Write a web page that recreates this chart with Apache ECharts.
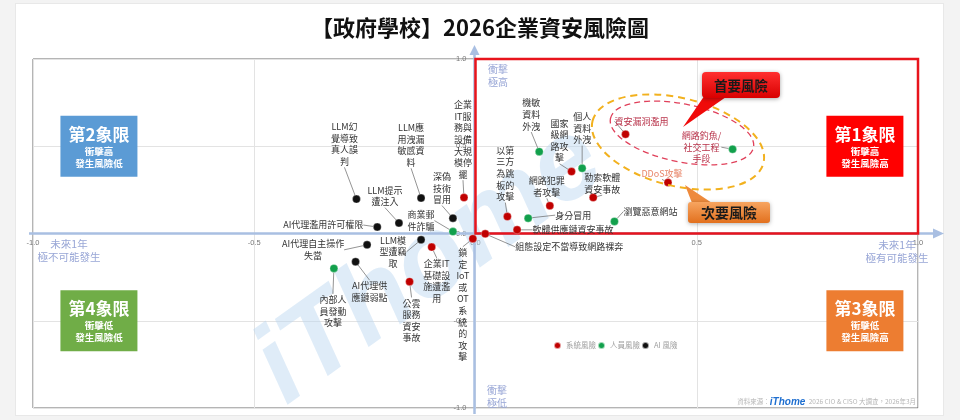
<!DOCTYPE html>
<html><head><meta charset="utf-8">
<script src="https://cdn.jsdelivr.net/npm/echarts@6/dist/echarts.min.js"></script>
<style>
html,body{margin:0;padding:0;background:#f3f3f3;width:960px;height:420px;overflow:hidden}
#card{position:absolute;left:15px;top:3px;width:929px;height:413px;background:#fff;border:1px solid #e8e8e8;box-sizing:border-box}
#chart{position:absolute;left:0;top:0;width:960px;height:420px}
</style></head><body><div id="card"></div><div id="chart"></div>
<script>
// ---- data ----
const chartTitle = '【政府學校】2026企業資安風險圖';
const axisMin = -1, axisMax = 1, axisStep = 0.5;
const seriesNames = ['系統風險', '人員風險', 'AI 風險'];

const systemRisks = ['企業\nIT服\n務與\n設備\n大規\n模停\n擺', '企業IT\n基礎設\n施遭濫\n用', '公雲\n服務\n資安\n事故', '鎖\n定\nIoT\n或\nOT\n系\n統\n的\n攻\n擊', '組態設定不當導致網路裸奔', '軟體供應鏈資安事故', '以第\n三方\n為跳\n板的\n攻擊', '網路犯罪\n者攻擊', '國家\n級網\n路攻\n擊', '勒索軟體\n資安事故', '資安漏洞濫用', 'DDoS攻擊'];
const systemLikelihood = [-0.026, -0.099, -0.149, -0.006, 0.022, 0.094, 0.072, 0.168, 0.217, 0.266, 0.339, 0.435];
const systemImpact = [0.206, -0.078, -0.276, -0.030, -0.002, 0.021, 0.097, 0.159, 0.355, 0.206, 0.569, 0.292];

const peopleRisks = ['商業郵\n件詐騙', '內部人\n員發動\n攻擊', '身分冒用', '機敏\n資料\n外洩', '個人\n資料\n外洩', '瀏覽惡意網站', '網路釣魚/\n社交工程\n手段'];
const peopleLikelihood = [-0.051, -0.320, 0.119, 0.144, 0.241, 0.314, 0.581];
const peopleImpact = [0.011, -0.200, 0.088, 0.469, 0.374, 0.069, 0.483];

const aiRisks = ['LLM幻\n覺導致\n真人誤\n判', 'LLM應\n用洩漏\n敏感資\n料', 'LLM提示\n遭注入', '深偽\n技術\n冒用', 'AI代理濫用許可權限', 'AI代理自主操作\n失當', 'LLM模\n型遭竊\n取', 'AI代理供\n應鏈弱點'];
const aiLikelihood = [-0.269, -0.123, -0.173, -0.051, -0.222, -0.245, -0.123, -0.271];
const aiImpact = [0.197, 0.203, 0.060, 0.088, 0.037, -0.065, -0.036, -0.162];

const quadrantTitles = ['第1象限', '第2象限', '第3象限', '第4象限'];
const quadrantNotes = ['衝擊高\n發生風險高', '衝擊高\n發生風險低', '衝擊低\n發生風險高', '衝擊低\n發生風險低'];

// ---- layout / style (not data) ----
const systemOffsets = [[-1,-58],[5,34],[2,39],[-10,66],[84,13],[56,0],[-2,-43],[-3,-19],[-12,-31],[9,-14],[16,-13],[-6,-9]];
const peopleOffsets = [[-32,-11],[-1,43],[45,-3],[-8,-37],[0,-40],[36,-10],[-31,-2]];
const aiOffsets = [[-12,-55],[-10,-53],[-14,-27],[-11,-30],[-54,-2],[-54,5],[-28,12],[14,30]];
const specialLabelColors = {'資安漏洞濫用':'#b8334a', 'DDoS攻擊':'#e8866a', '網路釣魚/\n社交工程\n手段':'#b8334a'};
const quadrantPos = [[0.880, 0.5], [-0.851, 0.5], [0.880, -0.5], [-0.851, -0.5]];
const quadrantColors = ['#ff0000', '#5b9bd5', '#ed7d31', '#70ad47'];
const FONT = '"Noto Sans CJK TC", "Noto Sans CJK SC", sans-serif';
const W = 960, H = 420;
const G = {left: 33, right: 42, top: 59, bottom: 12};
const gridW = W - G.left - G.right, gridH = H - G.top - G.bottom;

function riskSeries(name, labels, xs, ys, offsets, color) {
  return {
    type: 'scatter', name: name, symbolSize: 8, z: 5,
    itemStyle: {color: color, opacity: 1, borderColor: 'rgba(255,255,255,0.6)', borderWidth: 0.5},
    data: labels.map((l, i) => {
      const d = {name: l, value: [xs[i], ys[i]]};
      if (specialLabelColors[l]) d.label = {color: specialLabelColors[l]};
      return d;
    }),
    label: {show: true, position: 'inside', formatter: '{b}', color: '#333', fontSize: 9, lineHeight: 11.6,
      align: 'center', verticalAlign: 'middle', textBorderWidth: 0, fontFamily: FONT},
    labelLine: {show: true, lineStyle: {color: '#666', width: 0.7}},
    labelLayout: p => ({dx: offsets[p.dataIndex][0], dy: offsets[p.dataIndex][1]}),
    emphasis: {disabled: true}
  };
}

const chart = echarts.init(document.getElementById('chart'), null, {renderer: 'canvas'});
const axisCommon = {
  type: 'value', min: axisMin, max: axisMax, interval: axisStep,
  axisLine: {show: false, onZero: false},
  axisTick: {show: false},
  splitLine: {show: true, lineStyle: {color: '#e3e3e3', width: 1}},
  axisLabel: {color: '#777', fontSize: 7.5, showMinLabel: true, showMaxLabel: true, formatter: v => v.toFixed(1), fontFamily: 'Arial'}
};

chart.setOption({
  animation: false,
  textStyle: {fontFamily: FONT},
  title: {text: chartTitle, left: 'center', top: 12, textStyle: {fontSize: 22, fontWeight: 'bold', color: '#111', fontFamily: FONT}},
  legend: {data: seriesNames, left: 553, top: 341, padding: 0, icon: 'circle', itemWidth: 7, itemHeight: 7, itemGap: 1,
    textStyle: {fontSize: 7.5, color: '#a0a0a0', fontFamily: FONT}},
  grid: {left: G.left, right: G.right, top: G.top, bottom: G.bottom, show: true, borderColor: '#6b6b6b', borderWidth: 1, containLabel: false, outerBoundsMode: 'none'},
  xAxis: Object.assign({}, axisCommon, {position: 'bottom', offset: -gridH / 2, axisLabel: Object.assign({}, axisCommon.axisLabel, {margin: 5})}),
  yAxis: Object.assign({}, axisCommon, {position: 'left', offset: -gridW / 2, axisLabel: Object.assign({}, axisCommon.axisLabel, {margin: 9})}),
  series: [
    riskSeries(seriesNames[0], systemRisks, systemLikelihood, systemImpact, systemOffsets, '#c00000'),
    riskSeries(seriesNames[1], peopleRisks, peopleLikelihood, peopleImpact, peopleOffsets, '#12a04c'),
    riskSeries(seriesNames[2], aiRisks, aiLikelihood, aiImpact, aiOffsets, '#111111'),
    {
      type: 'scatter', name: 'quadrants', symbol: 'rect', symbolSize: [77, 61], z: 4, silent: true,
      itemStyle: {opacity: 1},
      data: quadrantTitles.map((t, i) => ({name: t, value: quadrantPos[i], itemStyle: {color: quadrantColors[i], opacity: 1}})),
      label: {show: true, position: 'inside',
        formatter: p => '{t|' + p.name + '}\n' + quadrantNotes[p.dataIndex].split('\n').map(s => '{s|' + s + '}').join('\n'),
        rich: {t: {fontSize: 17, fontWeight: 'bold', color: '#fff', lineHeight: 22, fontFamily: FONT},
               s: {fontSize: 9.5, fontWeight: 'bold', color: '#fff', lineHeight: 12, fontFamily: FONT}}},
      markArea: {silent: true, z: 3, itemStyle: {color: 'rgba(0,0,0,0)', borderColor: '#e8141c', borderWidth: 2.5, opacity: 1},
        data: [[{coord: [0, axisMax]}, {coord: [axisMax, 0]}]]},
      emphasis: {disabled: true}
    }
  ]
});

// decorations
const o = chart.convertToPixel({gridIndex: 0}, [0, 0]);
const tl = chart.convertToPixel({gridIndex: 0}, [axisMin, axisMax]);
const br = chart.convertToPixel({gridIndex: 0}, [axisMax, axisMin]);
const axisCol = '#a9bfe2';
const nameCol = '#98a6d6';
chart.setOption({
  graphic: [
    {type: 'text', x: 430, y: 265, rotation: 0.62, silent: true, z: 1,
      style: {text: 'iThome', fontSize: 112, fontWeight: 'bold', fontStyle: 'italic', fontFamily: 'Arial',
        fill: 'rgba(185,212,240,0.45)', align: 'center', verticalAlign: 'middle'}},
    {type: 'line', silent: true, z: 2, shape: {x1: tl[0] - 4, y1: o[1], x2: br[0] + 18, y2: o[1]}, style: {stroke: axisCol, lineWidth: 2.5}},
    {type: 'polygon', silent: true, z: 2, shape: {points: [[br[0] + 26, o[1]], [br[0] + 15, o[1] - 5], [br[0] + 15, o[1] + 5]]}, style: {fill: axisCol}},
    {type: 'line', silent: true, z: 2, shape: {x1: o[0] - 1, y1: br[1] + 6, x2: o[0] - 1, y2: tl[1] - 6}, style: {stroke: axisCol, lineWidth: 2.5}},
    {type: 'polygon', silent: true, z: 2, shape: {points: [[o[0] - 1, tl[1] - 14], [o[0] - 6, tl[1] - 4], [o[0] + 4, tl[1] - 4]]}, style: {fill: axisCol}},
    {type: 'text', x: 69, y: 251, silent: true, z: 6, style: {text: '未來1年\n極不可能發生', fontSize: 10.5, lineHeight: 13, fill: nameCol, align: 'center', verticalAlign: 'middle', fontFamily: FONT}},
    {type: 'text', x: 897, y: 252, silent: true, z: 6, style: {text: '未來1年\n極有可能發生', fontSize: 10.5, lineHeight: 13, fill: nameCol, align: 'center', verticalAlign: 'middle', fontFamily: FONT}},
    {type: 'text', x: 488, y: 75.5, silent: true, z: 6, style: {text: '衝擊\n極高', fontSize: 10, lineHeight: 13, fill: nameCol, align: 'left', verticalAlign: 'middle', fontFamily: FONT}},
    {type: 'text', x: 487, y: 397, silent: true, z: 6, style: {text: '衝擊\n極低', fontSize: 10, lineHeight: 13, fill: nameCol, align: 'left', verticalAlign: 'middle', fontFamily: FONT}},
    {type: 'ellipse', x: 678, y: 142, rotation: -0.24, silent: true, z: 6, shape: {cx: 0, cy: 0, rx: 88, ry: 44},
      style: {fill: 'none', stroke: '#f2b11e', lineWidth: 2, lineDash: [7, 5]}},
    {type: 'ellipse', x: 682, y: 133, rotation: -0.2, silent: true, z: 6, shape: {cx: 0, cy: 0, rx: 73, ry: 29},
      style: {fill: 'none', stroke: '#e0405a', lineWidth: 1.3, lineDash: [6, 4]}},
    {type: 'polygon', silent: true, z: 7, shape: {points: [[707, 92], [726, 97], [683, 127]]}, style: {fill: '#f00a0a'}},
    {type: 'rect', silent: true, z: 7, shape: {x: 702, y: 72, width: 78, height: 26, r: 4},
      style: {fill: new echarts.graphic.LinearGradient(0, 0, 0, 1, [{offset: 0, color: '#ff3030'}, {offset: 1, color: '#d80000'}]),
        shadowBlur: 4, shadowColor: 'rgba(0,0,0,0.35)', shadowOffsetY: 1}},
    {type: 'text', x: 741, y: 85.5, silent: true, z: 8, style: {text: '首要風險', fontSize: 13.5, fontWeight: 'bold', fill: '#1a1a1a', align: 'center', verticalAlign: 'middle', fontFamily: FONT}},
    {type: 'polygon', silent: true, z: 7, shape: {points: [[692, 203], [712, 203], [685, 185]]}, style: {fill: '#ee8a3c'}},
    {type: 'rect', silent: true, z: 7, shape: {x: 688, y: 202, width: 82, height: 21, r: 3},
      style: {fill: new echarts.graphic.LinearGradient(0, 0, 0, 1, [{offset: 0, color: '#f7a560'}, {offset: 1, color: '#e2701e'}]),
        shadowBlur: 4, shadowColor: 'rgba(0,0,0,0.3)', shadowOffsetY: 1}},
    {type: 'text', x: 729, y: 212.5, silent: true, z: 8, style: {text: '次要風險', fontSize: 14, fontWeight: 'bold', fill: '#1a1a1a', align: 'center', verticalAlign: 'middle', fontFamily: FONT}},
    {type: 'text', x: 916, y: 402, silent: true, z: 6, style: {
      text: '{a|資料來源：}{b|iThome} {a|2026 CIO & CISO 大調查，2026年3月}', align: 'right', verticalAlign: 'middle',
      rich: {a: {fontSize: 6.5, fill: '#b5b5b5', fontFamily: FONT}, b: {fontSize: 10, fontWeight: 'bold', fontStyle: 'italic', fill: '#1f6fd0', fontFamily: 'Arial'}}}}
  ]
});
</script></body></html>
